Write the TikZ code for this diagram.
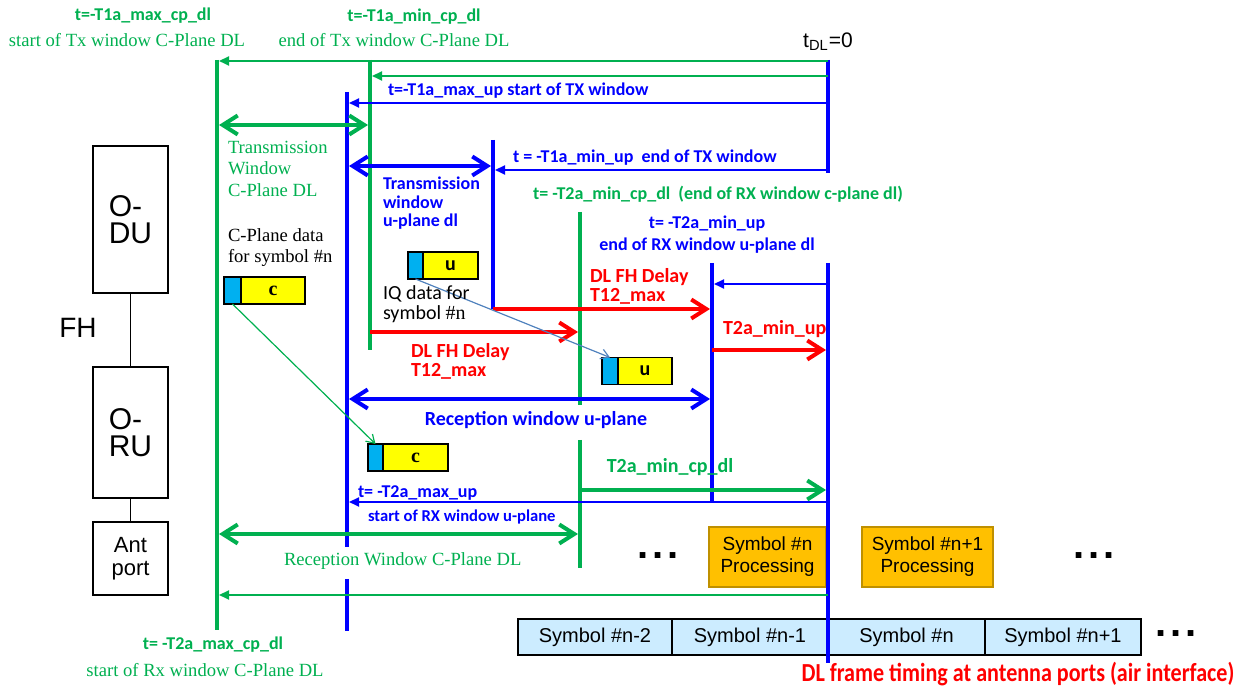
\documentclass[tikz,border=0pt]{standalone}
\usepackage{fontspec}
\usepackage{graphicx}
\setmainfont{Liberation Serif}
\setsansfont{Liberation Sans}
\newfontfamily\calfont{Carlito}
\usepackage{tikz}
\usetikzlibrary{arrows.meta,positioning}
\definecolor{fhgreen}{RGB}{0,176,80}
\definecolor{fhblue}{RGB}{0,0,255}
\definecolor{fhred}{RGB}{255,0,0}
\definecolor{pktblue}{RGB}{0,176,240}
\definecolor{pktyellow}{RGB}{255,255,0}
\definecolor{procfill}{RGB}{255,192,0}
\definecolor{procdraw}{RGB}{191,144,0}
\definecolor{symfill}{RGB}{204,236,255}
\definecolor{iqarrow}{RGB}{79,129,189}

\begin{document}
\begin{tikzpicture}[x=.5pt,y=-.5pt,
  every node/.style={inner sep=0pt,outer sep=0pt},
  cal/.style={font=\calfont\bfseries\fontsize{9}{9.25}\selectfont},
  calbig/.style={font=\calfont\bfseries\fontsize{10}{9.5}\selectfont},
  rm/.style={font=\rmfamily\fontsize{9.3}{10.75}\selectfont},
  gline/.style={fhgreen,line width=2.2pt},
  bline/.style={fhblue,line width=2.2pt},
  thinarr/.style={line width=1pt,-{Triangle[length=5pt,width=4.5pt]}},
  fatarr/.style={line width=2pt,-{Straight Barb[length=7.5pt,width=9.5pt]}},
  twoarr/.style={line width=2pt,
                 {Straight Barb[length=7.5pt,width=9.5pt]}-{Straight Barb[length=7.5pt,width=9.5pt]}},
  pktarr/.style={line width=.6pt,-{Straight Barb[length=4pt,width=5pt]}},
  unit/.style={draw=black,line width=.8pt,minimum width=37.5pt,align=left,
               font=\sffamily\fontsize{15}{13.5}\selectfont},
  pkthead/.style={draw=black,line width=.6pt,fill=pktblue,minimum height=13.5pt},
  pktbody/.style={draw=black,line width=.6pt,fill=pktyellow,minimum height=13.5pt},
  symbox/.style={draw=black,line width=.6pt,fill=symfill,minimum height=18pt,
                 font=\sffamily\fontsize{10}{12}\selectfont},
  procbox/.style={draw=procdraw,line width=.9pt,fill=procfill,minimum height=30pt,
                  align=center,font=\sffamily\fontsize{9.5}{11}\selectfont}]

  \useasboundingbox (0,0) rectangle (1244,688);

  % O-DU / O-RU chain on the left.
  \node[unit,minimum height=73.5pt] (odu) at (130.5,219.5) {O-\\DU};
  \node[unit,minimum height=65.5pt] (oru) at (130.5,432.5) {O-\\RU};
  \node[unit,minimum height=36.5pt,align=center,
        font=\sffamily\fontsize{11}{11.5}\selectfont] (antp) at (130.5,558.5) {Ant\\port};
  \draw[line width=.8pt] (odu)--(oru);
  \draw[line width=.8pt] (oru)--(antp);
  \node[font=\sffamily\fontsize{14}{14}\selectfont] (fh) at (78,328) {FH};

  % Air interface symbols and processing slots.
  \node[symbox,minimum width=77pt] (s1) at (595,637) {Symbol \#n-2};
  \node[symbox,minimum width=78pt,right=0pt of s1] (s2) {Symbol \#n-1};
  \node[symbox,minimum width=78.5pt,right=0pt of s2] (s3) {Symbol \#n};
  \node[symbox,minimum width=78pt,right=0pt of s3] (s4) {Symbol \#n+1};
  \node[procbox,minimum width=58.5pt] (p1) at (767.5,557) {Symbol \#n\\Processing};
  \node[procbox,minimum width=65.5pt] (p2) at (927.5,557) {Symbol \#n+1\\Processing};
  \foreach \dx/\dy in {658/556,1094/556,1176/634}
    \node[font=\sffamily\bfseries\fontsize{20}{20}\selectfont] (dots\dx) at (\dx,\dy)
      {.\kern2pt.\kern2pt.};

  % Window boundaries.
  \draw[gline] (217,60)--(217,630);
  \draw[gline] (370,60)--(370,350);
  \draw[gline] (580,212)--(580,405);
  \draw[gline] (580,440)--(580,568);
  \draw[bline] (347,92)--(347,547);
  \draw[bline] (347,579)--(347,631);
  \draw[bline] (493,140)--(493,309);
  \draw[bline] (712,263)--(712,502);
  \draw[bline] (828,60)--(828,173);
  \draw[bline] (828,263)--(828,663);

  % Offsets measured back from t_DL=0.
  \draw[thinarr,fhgreen] (828,61)--(219,61);
  \draw[thinarr,fhgreen] (828,76)--(372,76);
  \draw[thinarr,fhblue] (828,103)--(349,103);
  \draw[thinarr,fhblue] (828,170)--(495,170);
  \draw[thinarr,fhblue] (828,284)--(714,284);
  \draw[thinarr,fhblue] (828,502)--(349,502);
  \draw[thinarr,fhgreen] (828,595)--(219,595);

  % Windows and delays.
  \draw[twoarr,fhgreen] (219,125)--(368,125);
  \draw[twoarr,fhblue] (349,166)--(491,166);
  \draw[fatarr,fhred] (493,309)--(710,309);
  \draw[fatarr,fhred] (370,332)--(578,332);
  \draw[fatarr,fhred] (712,350)--(826,350);
  \draw[twoarr,fhblue] (349,399)--(710,399);
  \draw[fatarr,fhgreen] (580,490)--(826,490);
  \draw[twoarr,fhgreen] (219,534)--(578,534);

  % C-plane and U-plane packets for symbol #n.
  \node[pkthead,minimum width=8.5pt] (cpa) at (232.5,290.5) {};
  \node[pktbody,minimum width=32pt,right=0pt of cpa,
        font=\rmfamily\bfseries\fontsize{10}{10}\selectfont] (cpb) {c};
  \node[pkthead,minimum width=7.5pt] (cpc) at (375.5,457.5) {};
  \node[pktbody,minimum width=32.5pt,right=0pt of cpc,
        font=\rmfamily\bfseries\fontsize{10}{10}\selectfont] (cpd) {c};
  \node[pkthead,minimum width=7.5pt] (upa) at (415.5,265.5) {};
  \node[pktbody,minimum width=27.5pt,right=0pt of upa,
        font=\calfont\bfseries\fontsize{10}{10}\selectfont] (upb) {u};
  \node[pkthead,minimum width=8pt] (upc) at (610,371) {};
  \node[pktbody,minimum width=27pt,right=0pt of upc,
        font=\calfont\bfseries\fontsize{10}{10}\selectfont] (upd) {u};
  \draw[pktarr,fhgreen] (cpa.south)--(cpc.north);
  \draw[pktarr,iqarrow] (upa.south)--(upc.north);

  % Labels.
  \node[cal,text=fhgreen] (tcmax) at (143,16) {t=-T1a\_max\_cp\_dl};
  \node[rm,text=fhgreen] (tcmaxd) at (127,40) {start of Tx window C-Plane DL};
  \node[cal,text=fhgreen] (tcmin) at (414,17) {t=-T1a\_min\_cp\_dl};
  \node[rm,text=fhgreen] (tcmind) at (394,40) {end of Tx window C-Plane DL};
  \node[font=\sffamily\fontsize{10.5}{12}\selectfont] (tdl) at (828,42) {t\textsubscript{DL}=0};
  \node[cal,text=fhblue,anchor=west] (tumax) at (388,91) {t=-T1a\_max\_up start of TX window};
  \node[rm,text=fhgreen,align=left,anchor=west] (txcw) at (228,168.5)
    {Transmission\\Window\\C-Plane DL};
  \node[cal,text=fhblue,align=left,anchor=west] (txuw) at (383,203.5)
    {Transmission\\window\\u-plane dl};
  \node[cal,text=fhblue,anchor=west] (tumin) at (513,158)
    {t = -T1a\_min\_up\ \ end of TX window};
  \node[cal,text=fhgreen,anchor=west] (tcrx) at (533,194)
    {t= -T2a\_min\_cp\_dl\ \ (end of RX window c-plane dl)};
  \node[cal,text=fhblue,align=center,font=\calfont\bfseries\fontsize{9}{11}\selectfont]
    (turx) at (707,235) {t= -T2a\_min\_up\\end of RX window u-plane dl};
  \node[font=\rmfamily\fontsize{9.3}{10.5}\selectfont,align=left,anchor=west]
    (cdata) at (228,248) {C-Plane data\\for symbol \#n};
  \node[font=\calfont\fontsize{10}{10}\selectfont,align=left,anchor=west]
    (iqdata) at (383,304) {IQ data for\\symbol {\rmfamily\#n}};
  \node[calbig,text=fhred,align=left,anchor=west] (dlfha) at (590,286.5)
    {DL FH Delay\\T12\_max};
  \node[calbig,text=fhred,align=left,anchor=west] (dlfhb) at (411,361)
    {DL FH Delay\\T12\_max};
  \node[calbig,text=fhred,anchor=west] (t2up) at (723,329) {T2a\_min\_up};
  \node[calbig,text=fhblue] (rxuw) at (536,420) {Reception window u-plane};
  \node[calbig,text=fhgreen] (t2cp) at (670,467) {T2a\_min\_cp\_dl};
  \node[cal,text=fhblue,anchor=west] (tumaxrx) at (358,493) {t= -T2a\_max\_up};
  \node[text=fhblue,anchor=west,font=\calfont\bfseries\fontsize{8.3}{9}\selectfont]
    (rxstart) at (368,517) {start of RX window u-plane};
  \node[rm,text=fhgreen,anchor=west] (rxcw) at (284,561) {Reception Window C-Plane DL};
  \node[cal,text=fhgreen] (tcmaxrx) at (213,645) {t= -T2a\_max\_cp\_dl};
  \node[rm,text=fhgreen] (tcmaxrxd) at (205,670) {start of Rx window C-Plane DL};
  \node[text=fhred,font=\calfont\bfseries\fontsize{13}{14}\selectfont] (airif) at (1018,674)
    {\scalebox{.85}[1]{DL frame timing at antenna ports (air interface)}};
\end{tikzpicture}
\end{document}
